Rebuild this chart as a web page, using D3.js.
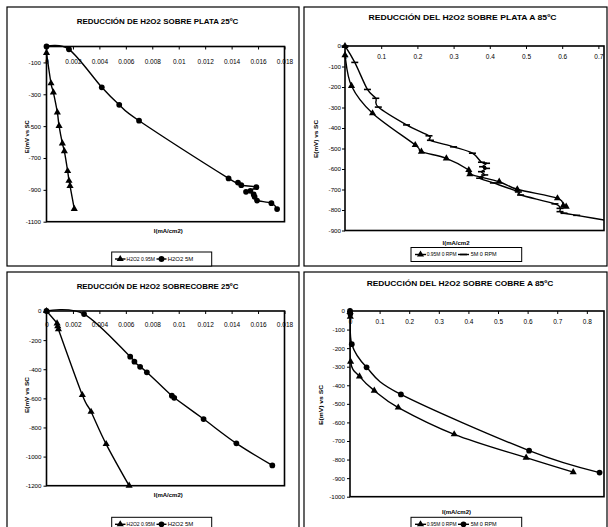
<!DOCTYPE html>
<html><head><meta charset="utf-8">
<script src="https://cdn.jsdelivr.net/npm/d3@7"></script>
<style>html,body{margin:0;padding:0;background:#fff}svg{display:block}</style>
</head><body>
<svg id="c" width="608" height="527"></svg>
<script>
// ---------------- data ----------------
const titles = ["REDUCCIÓN DE H2O2 SOBRE PLATA 25ºC", "REDUCCIÓN DEL H2O2 SOBRE PLATA A 85ºC",
                "REDUCCIÓN DE H2O2 SOBRECOBRE 25ºC", "REDUCCIÓN DEL H2O2 SOBRE COBRE A 85ºC"];
const xAxisTitles = ["I(mA/cm2)", "I(mA/cm2", "I(mA/cm2)", "I(mA/cm2)"];
const yAxisTitles = ["E(mV vs SC", "E(mV) vs SC", "E(mV vs SC", "E(mV) vs SC"];
const legend25 = ["H2O2 0.95M", "H2O2 5M"];
const legend85 = ["0.95M 0 RPM", "5M 0 RPM"];

const xTicks25 = [0, 0.002, 0.004, 0.006, 0.008, 0.01, 0.012, 0.014, 0.016, 0.018];
const xTicksPlata85 = [0, 0.1, 0.2, 0.3, 0.4, 0.5, 0.6, 0.7];
const xTicksCobre85 = [0, 0.1, 0.2, 0.3, 0.4, 0.5, 0.6, 0.7, 0.8];
const yTicksPlata25 = [-100, -300, -500, -700, -900, -1100];
const yTicksCobre25 = [0, -200, -400, -600, -800, -1000, -1200];
const yTicksPlata85 = [0, -100, -200, -300, -400, -500, -600, -700, -800, -900];
const yTicksCobre85 = [0, -100, -200, -300, -400, -500, -600, -700, -800, -900, -1000];

// [I (mA/cm2), E (mV vs SC)]
const plata25_095M = [[0, -40], [0.00034, -231], [0.00052, -288], [0.00082, -414], [0.00095, -498],
  [0.0012, -608], [0.00135, -657], [0.0016, -782], [0.0017, -843], [0.00178, -875], [0.0021, -1020]];
const plata25_5M = [[0, 0], [0.0017, -18], [0.00418, -256], [0.0055, -366], [0.007, -466],
  [0.01377, -828], [0.01448, -854], [0.01473, -871], [0.01587, -883], [0.01509, -912], [0.01542, -906],
  [0.01567, -929], [0.01574, -944], [0.01592, -967], [0.01701, -984], [0.01744, -1021]];

const plata85_095M = [[0, 0], [0, -45], [0.018, -195], [0.076, -328], [0.194, -483], [0.211, -515],
  [0.28, -548], [0.342, -605], [0.345, -625], [0.426, -662], [0.476, -699], [0.587, -743],
  [0.603, -779], [0.611, -784]];
const plata85_5M = [[0, 0], [0.027, -80], [0.062, -212], [0.085, -255], [0.092, -298], [0.17, -385],
  [0.232, -438], [0.236, -460], [0.30, -492], [0.352, -523], [0.377, -567], [0.391, -572], [0.38, -589],
  [0.391, -597], [0.377, -613], [0.386, -629], [0.372, -645], [0.41, -668], [0.479, -712], [0.485, -727],
  [0.58, -770], [0.594, -792], [0.594, -808], [0.605, -816], [0.64, -826], [0.74, -856]];

const cobre25_095M = [[0, 0], [0.0008, -85], [0.00085, -105], [0.0009, -125], [0.00271, -577],
  [0.00337, -692], [0.00451, -914], [0.00625, -1200]];
const cobre25_5M = [[0, 0], [0.00284, -21], [0.00633, -314], [0.00665, -348], [0.00708, -383],
  [0.00759, -421], [0.00948, -582], [0.00966, -596], [0.01188, -742], [0.01436, -909], [0.01708, -1061]];

const cobre85_095M = [[0, -5], [0.001, -30], [0.002, -273], [0.032, -352], [0.082, -429],
  [0.163, -520], [0.352, -664], [0.595, -790], [0.754, -868]];
const cobre85_5M = [[0, 0], [0.001, -15], [0.006, -179], [0.056, -303], [0.172, -449],
  [0.605, -752], [0.843, -870]];

// ---------------- drawing ----------------
const svg = d3.select("#c");
svg.append("rect").attr("width", 608).attr("height", 527).attr("fill", "#fff");
const FONT = "'Liberation Sans', Arial, sans-serif";

const triSym = d3.symbol().type(d3.symbolTriangle).size(22);
const cirSym = d3.symbol().type(d3.symbolCircle).size(26);

function drawMarker(g, type, cx, cy) {
  if (type === "triangle") {
    g.append("path").attr("d", triSym()).attr("transform", `translate(${cx},${cy})`).attr("fill", "#000");
  } else if (type === "circle") {
    g.append("path").attr("d", cirSym()).attr("transform", `translate(${cx},${cy})`).attr("fill", "#000");
  } else if (type === "dash") {
    g.append("line").attr("x1", cx - 3.5).attr("x2", cx + 3.5).attr("y1", cy).attr("y2", cy)
      .attr("stroke", "#000").attr("stroke-width", 1.6);
  }
}

const panels = [
  { frame: [7, 7, 292, 259], plot: { x0: 46.5, x1: 284.5, y0: 46.5, y1: 221.7 },
    xDomain: [0, 0.018], yDomain: [-1100, 0], xTicks: xTicks25, yTicks: yTicksPlata25,
    xPad: 9.5, yPad: 2.5,
    title: titles[0], titleX: 157.5, titleY: 24, titleW: 161.7,
    xTitle: xAxisTitles[0], xTitleX: 168.3, xTitleY: 232.5,
    yTitle: yAxisTitles[0], yTitleX: 27.3, yTitleY: 136.7, yTitleW: 33,
    series: [{ data: plata25_095M, marker: "triangle", name: legend25[0] },
             { data: plata25_5M, marker: "circle", name: legend25[1] }],
    legend: { x: 111.7, y: 252, w: 100, h: 14, items: [[115, 125.5, 126.5, 28.5], [156.5, 166.5, 167.7, 25.6]], ty: 260.8 } },
  { frame: [304, 7, 303, 259], plot: { x0: 345, x1: 604, y0: 46, y1: 230.5 },
    xDomain: [0, 0.7155], yDomain: [-900, 0], xTicks: xTicksPlata85, yTicks: yTicksPlata85,
    xPad: 5.5, yPad: 1,
    title: titles[1], titleX: 462.5, titleY: 20, titleW: 188,
    xTitle: xAxisTitles[1], xTitleX: 456, xTitleY: 245,
    yTitle: yAxisTitles[1], yTitleX: 315.7, yTitleY: 139, yTitleW: 38,
    series: [{ data: plata85_095M, marker: "triangle", name: legend85[0] },
             { data: plata85_5M, marker: "dash", name: legend85[1] }],
    legend: { x: 411, y: 247.5, w: 110.7, h: 14, items: [[415, 426, 426.7, 30], [458, 469, 470.7, 26]], ty: 256.3 } },
  { frame: [7, 272, 292, 262], plot: { x0: 46.5, x1: 284.5, y0: 311, y1: 485.7 },
    xDomain: [0, 0.018], yDomain: [-1200, 0], xTicks: xTicks25, yTicks: yTicksCobre25,
    xPad: 8, yPad: 2,
    title: titles[2], titleX: 157.5, titleY: 288.5, titleW: 161.7,
    xTitle: xAxisTitles[2], xTitleX: 168.3, xTitleY: 497,
    yTitle: yAxisTitles[2], yTitleX: 27.3, yTitleY: 395, yTitleW: 36,
    series: [{ data: cobre25_095M, marker: "triangle", name: legend25[0] },
             { data: cobre25_5M, marker: "circle", name: legend25[1] }],
    legend: { x: 111.7, y: 517.3, w: 100, h: 14, items: [[115, 125.5, 126.5, 28.5], [156.5, 166.5, 167.7, 25.6]], ty: 525.8 } },
  { frame: [304, 272, 303, 262], plot: { x0: 350, x1: 604, y0: 311, y1: 496.7 },
    xDomain: [0, 0.858], yDomain: [-1000, 0], xTicks: xTicksCobre85, yTicks: yTicksCobre85,
    xPad: 5.5, yPad: 2,
    title: titles[3], titleX: 460, titleY: 286, titleW: 186.7,
    xTitle: xAxisTitles[3], xTitleX: 456.5, xTitleY: 513.5,
    yTitle: yAxisTitles[3], yTitleX: 320.7, yTitleY: 405, yTitleW: 40,
    series: [{ data: cobre85_095M, marker: "triangle", name: legend85[0] },
             { data: cobre85_5M, marker: "circle", name: legend85[1] }],
    legend: { x: 411, y: 517.3, w: 110.7, h: 14, items: [[415, 426, 426.7, 30], [458, 469, 470.7, 26]], ty: 525.5 } }
];

panels.forEach((p, i) => {
  const g = svg.append("g");
  const x = d3.scaleLinear().domain(p.xDomain).range([p.plot.x0, p.plot.x1]);
  const y = d3.scaleLinear().domain(p.yDomain).range([p.plot.y1, p.plot.y0]);

  // outer chart frame
  g.append("rect").attr("x", p.frame[0]).attr("y", p.frame[1]).attr("width", p.frame[2]).attr("height", p.frame[3])
    .attr("fill", "#fff").attr("stroke", "#000").attr("stroke-width", 1.2);

  // title
  g.append("text").attr("x", p.titleX).attr("y", p.titleY).attr("text-anchor", "middle")
    .attr("font-family", FONT).attr("font-weight", "bold").attr("font-size", 7.6)
    .attr("textLength", p.titleW).attr("lengthAdjust", "spacingAndGlyphs").text(p.title);

  // plot area
  g.append("rect").attr("x", p.plot.x0).attr("y", p.plot.y0)
    .attr("width", p.plot.x1 - p.plot.x0).attr("height", p.plot.y1 - p.plot.y0)
    .attr("fill", "#fff").attr("stroke", "#000").attr("stroke-width", 1.6);

  // x axis (at E = 0, the top)
  const xa = g.append("g").attr("transform", `translate(0,${y(0)})`)
    .call(d3.axisBottom(x).tickValues(p.xTicks).tickSize(3).tickPadding(p.xPad).tickFormat(d => String(d)));
  xa.select(".domain").remove();
  xa.selectAll("line").attr("stroke", "#000");
  xa.selectAll("text").attr("font-family", FONT).attr("font-size", 6.5).attr("fill", "#000");

  // y axis
  const ya = g.append("g").attr("transform", `translate(${p.plot.x0},0)`)
    .call(d3.axisLeft(y).tickValues(p.yTicks).tickSize(3).tickPadding(p.yPad).tickFormat(d => String(d)));
  ya.select(".domain").remove();
  ya.selectAll("line").attr("stroke", "#000");
  ya.selectAll("text").attr("font-family", FONT).attr("font-size", 6.2).attr("fill", "#000");

  // axis titles
  g.append("text").attr("x", p.xTitleX).attr("y", p.xTitleY).attr("text-anchor", "middle")
    .attr("font-family", FONT).attr("font-weight", "bold").attr("font-size", 6).text(p.xTitle);
  g.append("text").attr("transform", `translate(${p.yTitleX + 2},${p.yTitleY}) rotate(-90)`)
    .attr("text-anchor", "middle").attr("font-family", FONT).attr("font-weight", "bold")
    .attr("font-size", 6).attr("textLength", p.yTitleW).attr("lengthAdjust", "spacingAndGlyphs").text(p.yTitle);

  // clip
  const cid = "clip" + i;
  svg.append("clipPath").attr("id", cid).append("rect")
    .attr("x", p.plot.x0).attr("y", p.plot.y0 - 4).attr("width", p.plot.x1 - p.plot.x0).attr("height", p.plot.y1 - p.plot.y0 + 4);

  const line = d3.line().x(d => x(d[0])).y(d => y(d[1])).curve(d3.curveCatmullRom.alpha(0));
  p.series.forEach(s => {
    g.append("path").attr("d", line(s.data)).attr("fill", "none").attr("stroke", "#000")
      .attr("stroke-width", 1.4).attr("clip-path", `url(#${cid})`);
    const mg = g.append("g");
    s.data.forEach(d => {
      const cx = x(d[0]);
      if (cx <= p.plot.x1 + 1) drawMarker(mg, s.marker, cx, y(d[1]));
    });
  });

  // legend
  const L = p.legend;
  g.append("rect").attr("x", L.x).attr("y", L.y).attr("width", L.w).attr("height", L.h)
    .attr("fill", "#fff").attr("stroke", "#000").attr("stroke-width", 1);
  p.series.forEach((s, k) => {
    const it = L.items[k];
    const cy = L.y + L.h / 2;
    g.append("line").attr("x1", it[0]).attr("x2", it[1]).attr("y1", cy).attr("y2", cy)
      .attr("stroke", "#000").attr("stroke-width", 1.4);
    drawMarker(g, s.marker, (it[0] + it[1]) / 2, cy);
    g.append("text").attr("x", it[2]).attr("y", L.ty).attr("font-family", FONT)
      .attr("font-size", 5.6).attr("textLength", it[3]).attr("lengthAdjust", "spacingAndGlyphs").text(s.name);
  });
});
</script>
</body></html>
